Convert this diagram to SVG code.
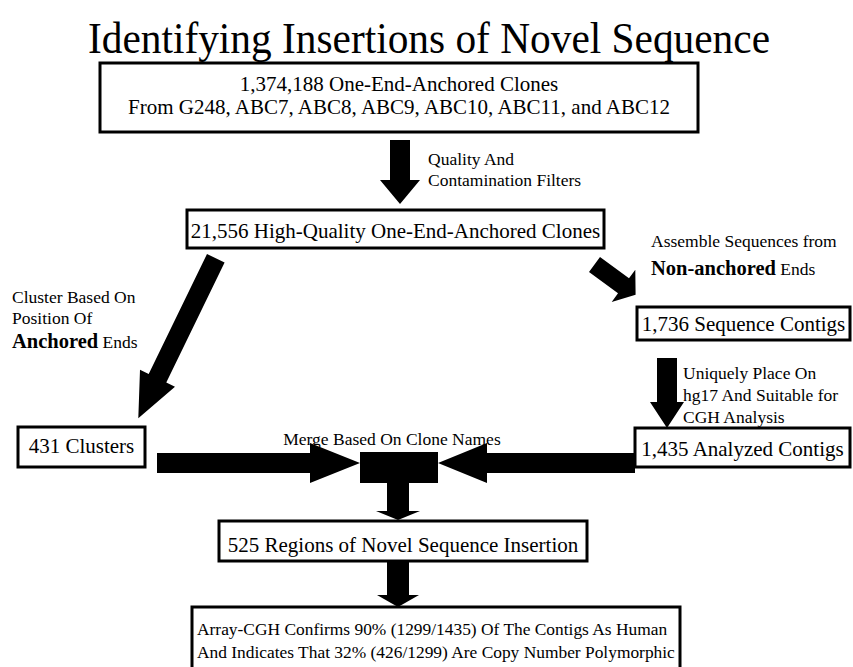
<svg xmlns="http://www.w3.org/2000/svg" width="853" height="667" viewBox="0 0 853 667">
<style>
text{font-family:"Liberation Serif","Times New Roman",serif;fill:#000}
.box{fill:#fff;stroke:#000;stroke-width:3}
.bt{font-size:21px;text-anchor:middle}
.lb{font-size:17.5px}
.bd{font-weight:bold;font-size:20.5px}
.ar{fill:#000;stroke:none}
</style>
<rect width="853" height="667" fill="#fff"/>
<text id="title" x="88" y="53" font-size="45" textLength="682" lengthAdjust="spacingAndGlyphs">Identifying Insertions of Novel Sequence</text>

<g id="connectors">
  <polygon class="ar" points="390,140 410,140 410,180 420,180 400,204 380,180 390,180"/>
  <polygon class="ar" points="207.0,254.0 224.6,262.6 166.3,382.6 175.0,386.8 138.3,418.3 140.0,369.8 148.7,374.0"/>
  <polygon class="ar" points="600.0,257.0 629.0,278.3 635.3,269.7 635.6,294.7 611.7,301.9 618.0,293.3 589.0,272.0"/>
  <polygon class="ar" points="657,358 677,358 677,402 684,402 667,428 650,402 657,402"/>
  <polygon class="ar" points="157,453 310,453 310,443 360,463 310,483 310,473 157,473"/>
  <polygon class="ar" points="635,453 487,453 487,443 438,463 487,483 487,473 635,473"/>
  <rect class="ar" x="360" y="452" width="78" height="31"/>
  <polygon class="ar" points="387,483 409,483 409,511 420,511 398,520 376,511 387,511"/>
  <polygon class="ar" points="387,561 409,561 409,595 419,595 398,607 377,595 387,595"/>
  <text class="lb" x="428" y="165">Quality And</text>
  <text class="lb" x="428" y="186">Contamination Filters</text>
  <text class="lb" x="12" y="303">Cluster Based On</text>
  <text class="lb" x="12" y="324">Position Of</text>
  <text class="lb" x="12" y="348"><tspan class="bd">Anchored</tspan> Ends</text>
  <text class="lb" x="651" y="247">Assemble Sequences from</text>
  <text class="lb" x="651" y="275"><tspan class="bd">Non-anchored</tspan> Ends</text>
  <text class="lb" x="683" y="379">Uniquely Place On</text>
  <text class="lb" x="683" y="401">hg17 And Suitable for</text>
  <text class="lb" x="683" y="423">CGH Analysis</text>
  <text class="lb" x="392" y="445" text-anchor="middle">Merge Based On Clone Names</text>
</g>

<g id="n1">
  <rect class="box" x="100" y="63" width="598" height="69" stroke-width="4"/>
  <text class="bt" x="399" y="91">1,374,188 One-End-Anchored Clones</text>
  <text class="bt" x="399" y="114">From G248, ABC7, ABC8, ABC9, ABC10, ABC11, and ABC12</text>
</g>
<g id="n2">
  <rect class="box" x="187" y="210" width="417" height="38"/>
  <text class="bt" x="395.5" y="238">21,556 High-Quality One-End-Anchored Clones</text>
</g>
<g id="n3">
  <rect class="box" x="18" y="427" width="127" height="40"/>
  <text class="bt" x="81.5" y="453">431 Clusters</text>
</g>
<g id="n4">
  <rect class="box" x="637" y="307" width="213" height="33"/>
  <text class="bt" x="743.5" y="331">1,736 Sequence Contigs</text>
</g>
<g id="n5">
  <rect class="box" x="635" y="428" width="215" height="39"/>
  <text class="bt" x="742.5" y="456">1,435 Analyzed Contigs</text>
</g>
<g id="n6">
  <rect class="box" x="219" y="521" width="368" height="40"/>
  <text class="bt" x="403" y="552">525 Regions of Novel Sequence Insertion</text>
</g>
<g id="n7">
  <rect class="box" x="192" y="607" width="488" height="90" stroke-width="2.5"/>
  <text x="197" y="635" font-size="17.4">Array-CGH Confirms 90% (1299/1435) Of The Contigs As Human</text>
  <text x="197" y="658" font-size="17.4">And Indicates That 32% (426/1299) Are Copy Number Polymorphic</text>
</g>
</svg>
